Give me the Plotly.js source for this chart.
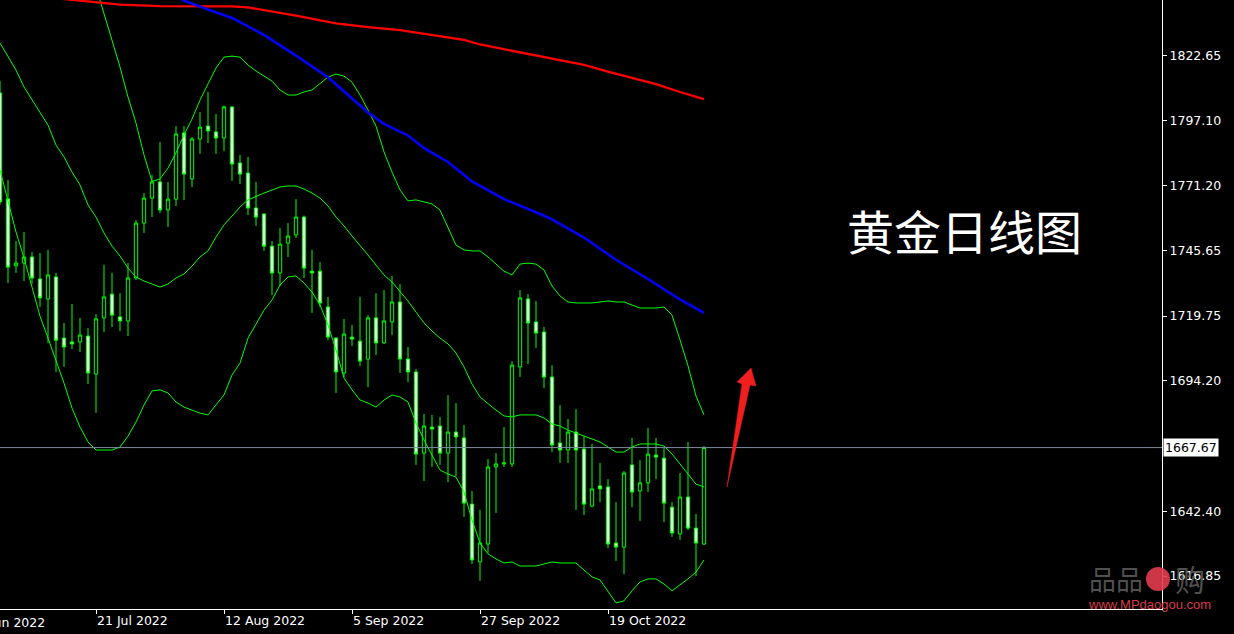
<!DOCTYPE html>
<html>
<head>
<meta charset="utf-8">
<script src="https://cdn.plot.ly/plotly-3.0.1.min.js"></script>
<style>html,body{margin:0;padding:0;background:#000;overflow:hidden}#chart{width:1234px;height:634px}</style>
</head>
<body>
<div id="chart"></div>
<script>
// Trading days (categories)
const dates = [
"2022-07-05","2022-07-06","2022-07-07","2022-07-08",
"2022-07-11","2022-07-12","2022-07-13","2022-07-14","2022-07-15",
"2022-07-18","2022-07-19","2022-07-20","2022-07-21","2022-07-22",
"2022-07-25","2022-07-26","2022-07-27","2022-07-28","2022-07-29",
"2022-08-01","2022-08-02","2022-08-03","2022-08-04","2022-08-05",
"2022-08-08","2022-08-09","2022-08-10","2022-08-11","2022-08-12",
"2022-08-15","2022-08-16","2022-08-17","2022-08-18","2022-08-19",
"2022-08-22","2022-08-23","2022-08-24","2022-08-25","2022-08-26",
"2022-08-29","2022-08-30","2022-08-31","2022-09-01","2022-09-02",
"2022-09-05","2022-09-06","2022-09-07","2022-09-08","2022-09-09",
"2022-09-12","2022-09-13","2022-09-14","2022-09-15","2022-09-16",
"2022-09-19","2022-09-20","2022-09-21","2022-09-22","2022-09-23",
"2022-09-26","2022-09-27","2022-09-28","2022-09-29","2022-09-30",
"2022-10-03","2022-10-04","2022-10-05","2022-10-06","2022-10-07",
"2022-10-10","2022-10-11","2022-10-12","2022-10-13","2022-10-14",
"2022-10-17","2022-10-18","2022-10-19","2022-10-20","2022-10-21",
"2022-10-24","2022-10-25","2022-10-26","2022-10-27","2022-10-28",
"2022-10-31","2022-11-01","2022-11-02","2022-11-03","2022-11-04"];

const open = [1808.0,1766.1,1739.6,1740.7,1743.1,1734.4,1726.5,1735.2,1711.0,1709.5,
1709.5,1711.8,1696.8,1719.0,1728.4,1719.4,1717.8,1734.8,1756.5,1766.4,
1772.8,1761.7,1766.0,1792.2,1774.0,1789.8,1794.9,1792.6,1790.2,1802.5,
1780.3,1776.3,1762.5,1760.1,1747.4,1736.8,1748.6,1751.8,1758.9,1737.5,
1737.5,1723.3,1711.0,1697.2,1711.4,1709.8,1702.7,1719.0,1709.1,1717.4,
1725.3,1702.7,1697.6,1665.5,1675.8,1676.2,1665.5,1673.8,1671.5,1645.3,
1622.4,1629.5,1660.0,1661.2,1661.2,1699.6,1726.5,1717.4,1713.4,1695.6,
1669.5,1666.7,1673.8,1667.1,1644.5,1652.5,1652.1,1629.9,1628.3,1660.8,
1650.5,1653.7,1664.7,1663.5,1644.1,1633.5,1648.1,1635.8,1629.5];

const high = [1812.8,1773.6,1749.4,1753.0,1745.1,1744.7,1745.9,1736.8,1717.0,1724.5,
1719.0,1715.0,1720.5,1740.0,1736.8,1728.8,1740.7,1757.7,1768.4,1775.5,
1788.6,1772.8,1794.9,1794.9,1790.6,1800.5,1808.4,1799.7,1803.0,1802.8,
1783.5,1782.7,1772.8,1760.5,1749.4,1754.6,1756.5,1766.0,1759.5,1745.9,
1741.1,1727.3,1711.4,1718.6,1716.2,1727.3,1720.1,1728.8,1730.0,1735.6,
1732.4,1707.5,1698.8,1681.0,1680.6,1679.8,1688.5,1685.3,1676.6,1650.5,
1643.0,1663.1,1665.5,1675.8,1701.9,1730.0,1728.4,1725.7,1715.4,1700.3,
1684.5,1679.0,1682.9,1672.2,1669.1,1661.6,1655.2,1646.1,1658.4,1671.5,
1662.7,1675.4,1671.5,1667.5,1646.1,1657.6,1669.9,1641.4,1668.3];

const low = [1763.7,1732.8,1736.8,1733.6,1732.4,1723.3,1709.1,1697.6,1699.6,1706.7,
1705.5,1692.8,1681.4,1713.4,1715.4,1713.8,1711.8,1734.0,1752.6,1758.9,
1760.5,1755.0,1763.3,1765.6,1770.8,1783.9,1788.2,1783.9,1785.0,1773.2,
1772.0,1759.7,1755.4,1745.5,1728.0,1731.6,1743.1,1750.6,1734.8,1721.0,
1723.3,1710.2,1689.3,1695.6,1707.9,1700.0,1691.6,1704.3,1708.7,1712.2,
1697.2,1693.6,1660.8,1654.4,1660.0,1660.8,1654.0,1656.4,1640.2,1621.6,
1614.9,1626.0,1641.8,1660.0,1660.0,1695.6,1700.7,1707.1,1691.2,1665.9,
1661.6,1661.6,1643.0,1641.0,1644.1,1646.1,1627.9,1622.8,1617.6,1644.1,
1638.6,1650.1,1655.2,1638.2,1632.3,1631.1,1635.0,1616.8,1629.1];

const close = [1764.9,1739.1,1740.7,1743.1,1734.8,1726.9,1736.0,1710.2,1707.5,1708.7,
1712.2,1697.2,1718.6,1727.3,1720.1,1717.8,1734.8,1756.5,1766.4,1772.8,
1761.7,1766.0,1791.8,1775.9,1789.8,1794.5,1793.0,1790.2,1802.5,1779.9,
1775.9,1762.5,1758.9,1747.4,1736.8,1748.2,1751.4,1758.9,1738.7,1736.8,
1724.9,1711.4,1697.6,1712.6,1710.6,1701.9,1719.0,1709.1,1717.8,1725.3,
1702.7,1697.6,1665.1,1676.2,1675.0,1665.5,1673.8,1671.9,1645.7,1623.2,
1629.9,1660.0,1661.2,1661.6,1700.3,1726.9,1717.0,1713.0,1695.6,1668.7,
1666.7,1673.8,1666.7,1645.3,1651.3,1651.3,1629.5,1628.3,1657.6,1650.1,
1653.7,1665.1,1663.9,1645.7,1633.9,1648.1,1635.8,1629.9,1667.67];

// Bollinger bands
const bbUpper = [null,null,null,null,null,null,null,null,null,null,
null,null,1850.0,1839.7,1829.0,1818.3,1806.4,1796.1,1783.5,1773.0,
1774.0,1778.3,1784.3,1791.4,1797.7,1805.2,1811.6,1817.9,1822.2,1822.6,
1822.2,1819.1,1816.7,1814.7,1812.7,1809.2,1807.2,1807.2,1808.4,1809.2,
1811.6,1814.3,1815.5,1814.7,1812.3,1807.2,1801.3,1794.9,1784.7,1776.7,
1769.6,1765.3,1765.7,1764.9,1764.1,1761.7,1755.0,1747.8,1745.9,1745.5,
1745.5,1743.1,1740.3,1737.5,1736.0,1740.3,1740.7,1740.3,1738.0,1731.6,
1727.7,1725.3,1724.9,1724.9,1724.9,1725.3,1725.7,1725.3,1725.3,1724.1,
1722.9,1722.9,1722.9,1723.3,1720.1,1710.3,1700.0,1688.1,1680.6];

const bbMiddle = [1827.8,1822.2,1817.1,1810.4,1805.2,1800.5,1795.3,1787.4,1782.7,1776.7,
1771.6,1763.7,1758.9,1752.6,1747.4,1743.5,1738.7,1735.2,1733.6,1732.4,
1731.2,1732.4,1734.8,1736.4,1739.5,1743.1,1745.5,1751.0,1755.8,1759.3,
1762.9,1765.7,1767.2,1768.4,1769.6,1770.8,1771.2,1771.2,1770.0,1768.4,
1766.4,1763.3,1758.9,1755.4,1751.4,1747.8,1743.9,1739.9,1736.0,1733.2,
1729.6,1725.7,1721.3,1717.0,1713.8,1711.0,1708.7,1705.1,1699.6,1692.8,
1687.7,1684.9,1682.5,1680.2,1679.8,1680.6,1680.6,1680.6,1679.4,1677.0,
1676.2,1674.6,1673.4,1672.2,1671.1,1669.9,1667.9,1665.9,1665.9,1667.9,
1669.1,1669.1,1669.1,1668.3,1665.1,1661.2,1657.2,1653.2,1652.1];

const bbLower = [1777.5,1765.7,1753.0,1742.7,1730.8,1719.7,1711.0,1702.3,1693.2,1683.3,
1675.8,1669.9,1666.7,1666.7,1666.7,1667.9,1672.2,1677.8,1684.5,1690.1,
1690.5,1689.3,1685.7,1683.7,1682.5,1681.3,1680.6,1684.5,1688.5,1696.4,
1701.1,1711.0,1716.6,1722.1,1726.1,1732.0,1735.2,1735.6,1732.8,1729.2,
1724.1,1716.2,1706.3,1695.2,1690.5,1686.5,1685.3,1683.7,1686.5,1688.5,
1687.7,1685.7,1677.4,1670.7,1664.7,1658.8,1657.2,1656.0,1650.1,1639.0,
1629.9,1625.6,1623.6,1622.0,1622.4,1620.8,1620.8,1620.8,1621.6,1622.4,
1622.0,1622.0,1622.0,1619.2,1616.5,1615.3,1610.5,1606.2,1607.0,1611.0,
1614.5,1615.7,1615.7,1613.7,1611.0,1613.3,1615.7,1618.4,1623.2];

// Moving averages (read at sample bars)
const maRedIdx = [7,12,15,20,29,31,33,35,37,42,46,50,54,58,60,65,68,73,76,79,82,85,88];
const maRedVal = [1845.5,1843.9,1843.0,1842.4,1842.3,1841.9,1840.9,1839.7,1838.6,1835.6,1834.1,1832.9,1831.0,1829.0,1827.2,1824.0,1822.3,1819.1,1816.5,1814.0,1811.5,1808.4,1805.6];
const maBlueIdx = [22,23,25,29,33,37,41,46,48,51,53,56,59,63,67,69,73,77,81,85,88];
const maBlueVal = [1846.5,1844.6,1842.2,1837.7,1831.0,1822.8,1814.2,1800.3,1795.8,1791.2,1786.2,1780.7,1773.0,1766.0,1760.8,1758.0,1750.8,1742.0,1734.4,1726.3,1721.0];

// Axis ticks / labels
const xTickDates = ["2022-07-21","2022-08-12","2022-09-05","2022-09-27","2022-10-19"];
const xTickText = ["21 Jul 2022","12 Aug 2022","5 Sep 2022","27 Sep 2022","19 Oct 2022"];
const yTicks = [1616.85,1642.40,1694.20,1719.75,1745.65,1771.20,1797.10,1822.65];
const lastPrice = 1667.67;
const chartTitle = "黄金日线图";

// pixel helpers for decorations (plot area 0..1162 x 0..609)
const PW = 1162, PH = 609;
const px = x => x / PW;
const py = y => (PH - y) / PH;

const green = '#00ff00';
const traces = [
  {type:'candlestick', x:dates, open:open, high:high, low:low, close:close,
   increasing:{line:{color:green, width:1}, fillcolor:'#000000'},
   decreasing:{line:{color:green, width:1}, fillcolor:'#ffffff'},
   whiskerwidth:0, hoverinfo:'none', showlegend:false},
  {type:'scatter', mode:'lines', x:dates, y:bbUpper, line:{color:green, width:1}, hoverinfo:'none'},
  {type:'scatter', mode:'lines', x:dates, y:bbMiddle, line:{color:green, width:1}, hoverinfo:'none'},
  {type:'scatter', mode:'lines', x:dates, y:bbLower, line:{color:green, width:1}, hoverinfo:'none'},
  {type:'scatter', mode:'lines', x:maRedIdx.map(i => dates[i]), y:maRedVal, line:{color:'#ff0000', width:2.3}, hoverinfo:'none'},
  {type:'scatter', mode:'lines', x:maBlueIdx.map(i => dates[i]), y:maBlueVal, line:{color:'#0000ff', width:2.5}, hoverinfo:'none'}
];

const tickFont = {family:'DejaVu Sans, Tahoma, sans-serif', size:12.5, color:'#ffffff'};

const arrowPath = 'M' + px(727) + ',' + py(487) + ' L' + px(742) + ',' + py(384) + ' L' + px(737) + ',' + py(382) +
  ' L' + px(751) + ',' + py(368) + ' L' + px(756) + ',' + py(386) + ' L' + px(750) + ',' + py(385) + ' Z';

const layout = {
  width:1234, height:634,
  paper_bgcolor:'#000000', plot_bgcolor:'#000000',
  margin:{l:0, r:72, t:0, b:25, pad:0},
  showlegend:false,
  boxgap:0.4,
  xaxis:{type:'category', range:[0, 145.25], rangeslider:{visible:false},
    showgrid:false, zeroline:false, showline:true, linecolor:'#ffffff', linewidth:1,
    ticks:'outside', ticklen:4, tickcolor:'#ffffff', tickwidth:1,
    tickmode:'array', tickvals:xTickDates, ticktext:xTickText,
    ticklabelposition:'outside right', tickfont:tickFont, fixedrange:true},
  yaxis:{side:'right', range:[1603.79, 1844.81], autorange:false,
    showgrid:false, zeroline:false, showline:true, linecolor:'#ffffff', linewidth:1,
    ticks:'outside', ticklen:4, tickcolor:'#ffffff', tickwidth:1,
    tickmode:'array', tickvals:yTicks, ticktext:yTicks.map(v => v.toFixed(2)),
    tickfont:tickFont, fixedrange:true},
  shapes:[
    {type:'line', xref:'paper', x0:0, x1:1, yref:'y', y0:lastPrice, y1:lastPrice,
     line:{color:'#7d8ba0', width:1}},
    {type:'path', xref:'paper', yref:'paper', path:arrowPath,
     fillcolor:'#f01e1e', line:{color:'#f01e1e', width:0.5}},
    {type:'circle', xref:'paper', yref:'paper', x0:px(1146), x1:px(1170), y0:py(591), y1:py(567),
     fillcolor:'rgba(226,60,78,0.9)', line:{width:0}, layer:'above'}
  ],
  annotations:[
    {xref:'paper', yref:'y', x:1, y:lastPrice, xanchor:'left', yanchor:'middle', xshift:1,
     text:lastPrice.toFixed(2), showarrow:false, bgcolor:'#ffffff', borderpad:1,
     font:{family:'DejaVu Sans, Tahoma, sans-serif', size:12.5, color:'#000000'}},
    {xref:'paper', yref:'paper', x:px(-32), y:0, xanchor:'left', yanchor:'top', yshift:-4,
     text:'29 Jun 2022', showarrow:false, font:tickFont},
    {xref:'paper', yref:'paper', x:px(964), y:py(229), xanchor:'center', yanchor:'middle',
     text:chartTitle, showarrow:false,
     font:{family:'Noto Sans CJK SC, sans-serif', size:47, color:'#ffffff'}},
    {xref:'paper', yref:'paper', x:px(1116), y:py(578), xanchor:'center', yanchor:'middle',
     text:'品品', showarrow:false,
     font:{family:'Noto Sans CJK SC, sans-serif', size:27, color:'rgba(95,95,95,0.85)'}},
    {xref:'paper', yref:'paper', x:px(1190), y:py(578), xanchor:'center', yanchor:'middle',
     text:'购', showarrow:false,
     font:{family:'Noto Sans CJK SC, sans-serif', size:30, color:'rgba(95,95,95,0.85)'}},
    {xref:'paper', yref:'paper', x:px(1149), y:py(604), xanchor:'center', yanchor:'middle',
     text:'www.MPdaogou.com', showarrow:false,
     font:{family:'Liberation Sans, Arial, sans-serif', size:13, color:'#d83c4c'}}
  ]
};

Plotly.newPlot('chart', traces, layout, {displayModeBar:false, staticPlot:true});
</script>
</body>
</html>
